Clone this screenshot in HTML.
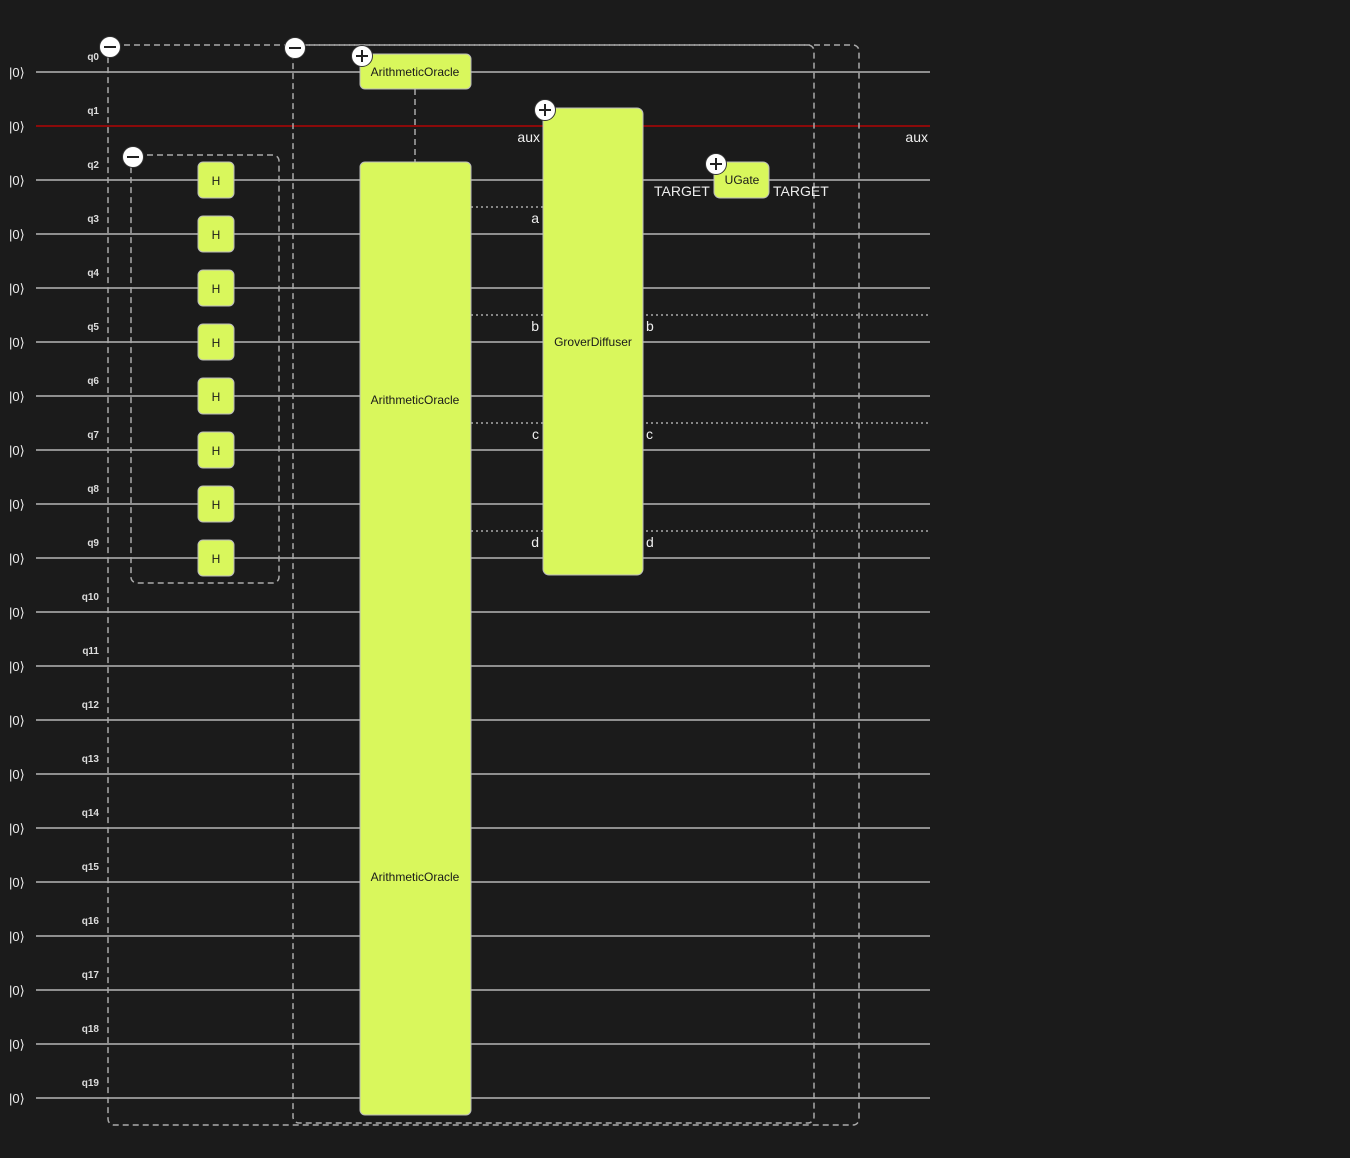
<!DOCTYPE html>
<html><head><meta charset="utf-8"><style>
html,body{margin:0;padding:0;background:#1b1b1b;}
svg{display:block;font-family:"Liberation Sans",sans-serif;}
</style></head><body>
<svg width="1350" height="1158" viewBox="0 0 1350 1158" xmlns="http://www.w3.org/2000/svg">
<rect width="1350" height="1158" fill="#1b1b1b"/>
<g id="wires" stroke="#8f8f8f" stroke-width="2">
<line x1="36" y1="72" x2="930" y2="72"/>
<line x1="36" y1="126" x2="930" y2="126" stroke="#8b0a0a"/>
<line x1="36" y1="180" x2="930" y2="180"/>
<line x1="36" y1="234" x2="930" y2="234"/>
<line x1="36" y1="288" x2="930" y2="288"/>
<line x1="36" y1="342" x2="930" y2="342"/>
<line x1="36" y1="396" x2="930" y2="396"/>
<line x1="36" y1="450" x2="930" y2="450"/>
<line x1="36" y1="504" x2="930" y2="504"/>
<line x1="36" y1="558" x2="930" y2="558"/>
<line x1="36" y1="612" x2="930" y2="612"/>
<line x1="36" y1="666" x2="930" y2="666"/>
<line x1="36" y1="720" x2="930" y2="720"/>
<line x1="36" y1="774" x2="930" y2="774"/>
<line x1="36" y1="828" x2="930" y2="828"/>
<line x1="36" y1="882" x2="930" y2="882"/>
<line x1="36" y1="936" x2="930" y2="936"/>
<line x1="36" y1="990" x2="930" y2="990"/>
<line x1="36" y1="1044" x2="930" y2="1044"/>
<line x1="36" y1="1098" x2="930" y2="1098"/>
</g>
<g fill="#eee" font-size="13">
<text x="9" y="77">|0⟩</text><text x="9" y="131">|0⟩</text><text x="9" y="185">|0⟩</text><text x="9" y="239">|0⟩</text><text x="9" y="293">|0⟩</text><text x="9" y="347">|0⟩</text><text x="9" y="401">|0⟩</text><text x="9" y="455">|0⟩</text><text x="9" y="509">|0⟩</text><text x="9" y="563">|0⟩</text><text x="9" y="617">|0⟩</text><text x="9" y="671">|0⟩</text><text x="9" y="725">|0⟩</text><text x="9" y="779">|0⟩</text><text x="9" y="833">|0⟩</text><text x="9" y="887">|0⟩</text><text x="9" y="941">|0⟩</text><text x="9" y="995">|0⟩</text><text x="9" y="1049">|0⟩</text><text x="9" y="1103">|0⟩</text>
</g>
<g fill="#ddd" font-size="10" font-weight="bold" text-anchor="end">
<text x="99" y="60">q0</text><text x="99" y="114">q1</text><text x="99" y="168">q2</text><text x="99" y="222">q3</text><text x="99" y="276">q4</text><text x="99" y="330">q5</text><text x="99" y="384">q6</text><text x="99" y="438">q7</text><text x="99" y="492">q8</text><text x="99" y="546">q9</text><text x="99" y="600">q10</text><text x="99" y="654">q11</text><text x="99" y="708">q12</text><text x="99" y="762">q13</text><text x="99" y="816">q14</text><text x="99" y="870">q15</text><text x="99" y="924">q16</text><text x="99" y="978">q17</text><text x="99" y="1032">q18</text><text x="99" y="1086">q19</text>
</g>
<!-- dotted -->
<g stroke="#aaa" stroke-width="1.5" stroke-dasharray="2,3">
<line x1="471" y1="207" x2="543" y2="207"/>
<line x1="471" y1="315" x2="930" y2="315"/>
<line x1="471" y1="423" x2="930" y2="423"/>
<line x1="471" y1="531" x2="930" y2="531"/>
</g>
<!-- dashed groups -->
<g fill="none" stroke="#aaa" stroke-width="1.5" stroke-dasharray="6,4">
<rect x="108" y="45" width="751" height="1080" rx="6"/>
<rect x="293" y="45" width="521" height="1078" rx="6"/>
<rect x="131" y="155" width="148" height="428" rx="6"/>
<line x1="415" y1="89" x2="415" y2="162"/>
</g>
<!-- gates -->
<g fill="#d9f75c" stroke="#bbb" stroke-width="1">
<rect x="360" y="54" width="111" height="35" rx="5"/>
<rect x="360" y="162" width="111" height="953" rx="5"/>
<rect x="543" y="108" width="100" height="467" rx="6"/>
<rect x="714" y="162" width="55" height="36" rx="6"/>
<rect x="198" y="162" width="36" height="36" rx="5"/>
<rect x="198" y="216" width="36" height="36" rx="5"/>
<rect x="198" y="270" width="36" height="36" rx="5"/>
<rect x="198" y="324" width="36" height="36" rx="5"/>
<rect x="198" y="378" width="36" height="36" rx="5"/>
<rect x="198" y="432" width="36" height="36" rx="5"/>
<rect x="198" y="486" width="36" height="36" rx="5"/>
<rect x="198" y="540" width="36" height="36" rx="5"/>
</g>
<g fill="#1a1a1a" font-size="12" text-anchor="middle">
<text x="415" y="76">ArithmeticOracle</text>
<text x="415" y="404">ArithmeticOracle</text>
<text x="415" y="881">ArithmeticOracle</text>
<text x="593" y="346">GroverDiffuser</text>
<text x="742" y="184">UGate</text>
<text x="216" y="185">H</text><text x="216" y="239">H</text><text x="216" y="293">H</text><text x="216" y="347">H</text><text x="216" y="401">H</text><text x="216" y="455">H</text><text x="216" y="509">H</text><text x="216" y="563">H</text>
</g>
<g fill="#eee" font-size="14">
<text x="540" y="142" text-anchor="end">aux</text>
<text x="928" y="142" text-anchor="end">aux</text>
<text x="654" y="196">TARGET</text>
<text x="773" y="196">TARGET</text>
<text x="539" y="223" text-anchor="end">a</text>
<text x="539" y="331" text-anchor="end">b</text>
<text x="539" y="439" text-anchor="end">c</text>
<text x="539" y="547" text-anchor="end">d</text>
<text x="646" y="331">b</text>
<text x="646" y="439">c</text>
<text x="646" y="547">d</text>
</g>
<!-- buttons -->
<g>
<circle cx="110" cy="47" r="10.5" fill="#fff" stroke="#333"/>
<line x1="104" y1="47" x2="116" y2="47" stroke="#222" stroke-width="2"/>
<circle cx="295" cy="48" r="10.5" fill="#fff" stroke="#333"/>
<line x1="289" y1="48" x2="301" y2="48" stroke="#222" stroke-width="2"/>
<circle cx="133" cy="157" r="10.5" fill="#fff" stroke="#333"/>
<line x1="127" y1="157" x2="139" y2="157" stroke="#222" stroke-width="2"/>
<circle cx="362" cy="56" r="10.5" fill="#fff" stroke="#333"/>
<path d="M356 56h12M362 50v12" stroke="#222" stroke-width="2"/>
<circle cx="545" cy="110" r="10.5" fill="#fff" stroke="#333"/>
<path d="M539 110h12M545 104v12" stroke="#222" stroke-width="2"/>
<circle cx="716" cy="164" r="10.5" fill="#fff" stroke="#333"/>
<path d="M710 164h12M716 158v12" stroke="#222" stroke-width="2"/>
</g>
</svg>
</body></html>
